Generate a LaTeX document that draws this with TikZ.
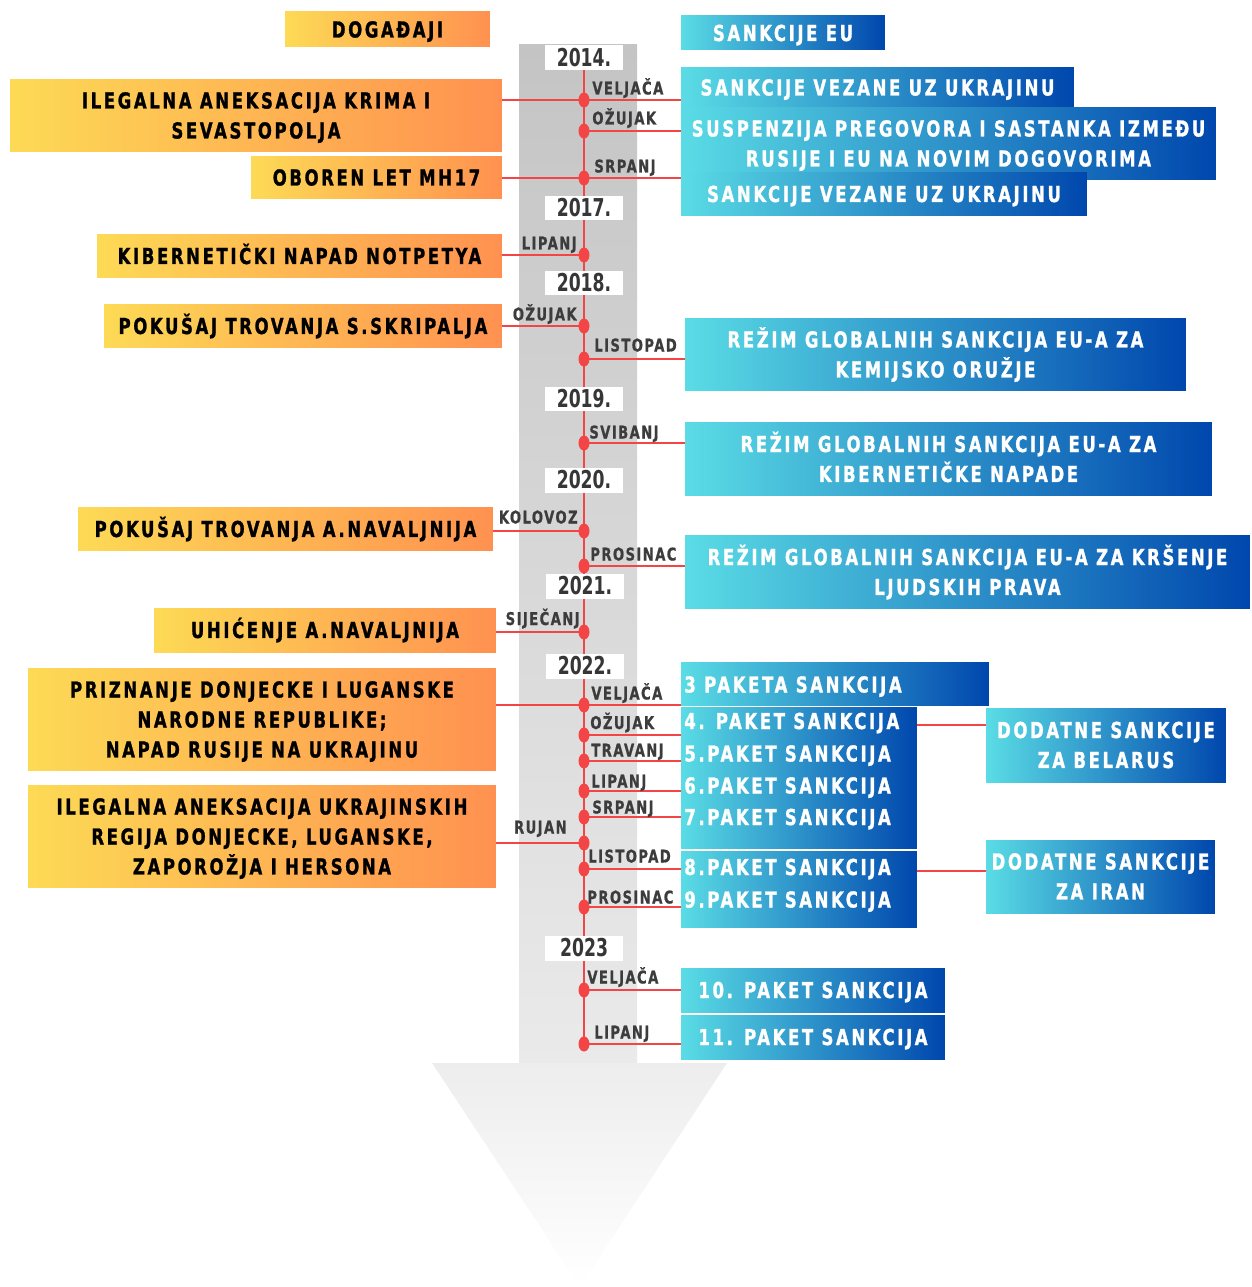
\documentclass[tikz,border=0pt]{standalone}
\usepackage{fontspec}
\usetikzlibrary{shapes.geometric}
\newfontfamily\hvy{DejaVu Sans Bold}[FakeStretch=0.75,LetterSpace=12,FakeBold=1.2]
\newfontfamily\yrf{DejaVu Sans Bold}[FakeStretch=0.7]
\newfontfamily\mof{DejaVu Sans Bold}[FakeStretch=0.75,LetterSpace=8,FakeBold=0.8]
\definecolor{orL}{HTML}{FDDA55}
\definecolor{orR}{HTML}{FF9150}
\definecolor{blL}{HTML}{5ADCE5}
\definecolor{blR}{HTML}{0047AD}
\definecolor{redc}{HTML}{F34545}
\definecolor{monc}{HTML}{3C3C3C}
\definecolor{yrc}{HTML}{363636}
\definecolor{shT}{HTML}{C4C4C4}
\definecolor{shB}{HTML}{EAEAEA}
\definecolor{ahT}{HTML}{EDEDED}
\pgfdeclarelayer{back}
\pgfdeclarelayer{mid}
\pgfsetlayers{back,mid,main}
\tikzset{
  sz/.style 2 args={minimum width=#1cm, minimum height=#2cm},
  one/.style={text height=9.1pt, text depth=0pt},
  two/.style={text height=26.17pt, text depth=0pt},
  three/.style={text height=43.24pt, text depth=0pt},
  lbox/.style={rectangle, left color=orL, right color=orR, inner sep=0pt,
    text=black, align=center, font=\hvy\fontsize{12.5}{17.07}\selectfont},
  rbox/.style={rectangle, left color=blL, right color=blR, inner sep=0pt,
    text=white, align=center, font=\hvy\fontsize{12.5}{17.07}\selectfont},
  ptxt/.style={inner sep=0pt, anchor=base west, text=white,
    font=\hvy\fontsize{12.5}{17.07}\selectfont},
  yr/.style={rectangle, fill=white, minimum width=1.56cm, minimum height=0.5cm,
    inner sep=0pt, text=yrc, text height=10.2pt, text depth=0pt,
    font=\yrf\fontsize{14}{14}\selectfont},
  dot/.style={ellipse, fill=redc, minimum width=0.22cm, minimum height=0.30cm, inner sep=0pt},
  monr/.style={inner sep=0pt, anchor=base west, text=monc, font=\mof\fontsize{10}{10}\selectfont},
  monl/.style={inner sep=0pt, anchor=base east, text=monc, font=\mof\fontsize{10}{10}\selectfont},
  rl/.style={draw=redc, line width=1.5pt},
  vl/.style={draw=redc, line width=1.2pt}
}
\begin{document}
\begin{tikzpicture}[x=0.02cm,y=-0.02cm]
\useasboundingbox (0,0) rectangle (1251,1287);
% arrow
\begin{pgfonlayer}{back}
\shade[top color=shT, bottom color=shB] (519,45) rectangle (637,1063);
\shade[top color=ahT, bottom color=white] (432,1063) -- (727,1063) -- (580,1287) -- cycle;
\end{pgfonlayer}
% headers
\node[lbox, sz={4.10}{0.70}, one] (hl) at (387.5,29.5) {DOGAĐAJI};
\node[rbox, sz={4.08}{0.68}, one] (hr) at (783,33) {SANKCIJE EU};
% left boxes
\node[lbox, sz={9.84}{1.46}, two] (l1) at (256,115.5) {ILEGALNA ANEKSACIJA KRIMA I\\SEVASTOPOLJA};
\node[lbox, sz={5.02}{0.86}, one] (l2) at (376.5,177.5) {OBOREN LET MH17};
\node[lbox, sz={8.10}{0.88}, one] (l3) at (299.5,256) {KIBERNETIČKI NAPAD NOTPETYA};
\node[lbox, sz={7.96}{0.88}, one] (l4) at (303,326) {POKUŠAJ TROVANJA S.SKRIPALJA};
\node[lbox, sz={8.30}{0.88}, one] (l5) at (285.5,529) {POKUŠAJ TROVANJA A.NAVALJNIJA};
\node[lbox, sz={6.84}{0.88}, one] (l6) at (325,630) {UHIĆENJE A.NAVALJNIJA};
\node[lbox, sz={9.36}{2.06}, three] (l7) at (262,719.5) {PRIZNANJE DONJECKE I LUGANSKE\\NARODNE REPUBLIKE;\\NAPAD RUSIJE NA UKRAJINU};
\node[lbox, sz={9.36}{2.06}, three] (l8) at (262,836.5) {ILEGALNA ANEKSACIJA UKRAJINSKIH\\REGIJA DONJECKE, LUGANSKE,\\ZAPOROŽJA I HERSONA};
% right boxes
\node[rbox, sz={7.86}{0.78}, one] (r1) at (877.5,87.5) {SANKCIJE VEZANE UZ UKRAJINU};
\node[rbox, sz={10.70}{1.46}, two] (r2) at (948.5,143.5) {SUSPENZIJA PREGOVORA I SASTANKA IZMEĐU\\RUSIJE I EU NA NOVIM DOGOVORIMA};
\node[rbox, sz={8.12}{0.88}, one] (r3) at (884,194) {SANKCIJE VEZANE UZ UKRAJINU};
\node[rbox, sz={10.02}{1.46}, two] (r4) at (935.5,354.5) {REŽIM GLOBALNIH SANKCIJA EU-A ZA\\KEMIJSKO ORUŽJE};
\node[rbox, sz={10.54}{1.48}, two] (r5) at (948.5,459) {REŽIM GLOBALNIH SANKCIJA EU-A ZA\\KIBERNETIČKE NAPADE};
\node[rbox, sz={11.30}{1.48}, two] (r6) at (967.5,572) {REŽIM GLOBALNIH SANKCIJA EU-A ZA KRŠENJE\\LJUDSKIH PRAVA};
\node[rbox, sz={6.16}{0.86}] (r7) at (835,683.5) {};
\node[rbox, sz={4.72}{2.84}] (r8) at (799,778) {};
\node[rbox, sz={4.72}{1.52}] (r9) at (799,889) {};
\node[rbox, sz={4.80}{1.48}, two] (r10) at (1106,745) {DODATNE SANKCIJE\\ZA BELARUS};
\node[rbox, sz={4.58}{1.46}, two] (r11) at (1100.5,876.5) {DODATNE SANKCIJE\\ZA IRAN};
\node[rbox, sz={5.28}{0.88}, one] (r12) at (813,990) {10. PAKET SANKCIJA};
\node[rbox, sz={5.28}{0.88}, one] (r13) at (813,1037) {11. PAKET SANKCIJA};
\node[ptxt] (p3) at (684,692.5) {3 PAKETA SANKCIJA};
\node[ptxt] (p4) at (684,729) {4. PAKET SANKCIJA};
\node[ptxt] (p5) at (684,761.5) {5.PAKET SANKCIJA};
\node[ptxt] (p6) at (684,793.5) {6.PAKET SANKCIJA};
\node[ptxt] (p7) at (684,825) {7.PAKET SANKCIJA};
\node[ptxt] (p8) at (684,875) {8.PAKET SANKCIJA};
\node[ptxt] (p9) at (684,907.5) {9.PAKET SANKCIJA};
% years
\node[yr] (y14) at (584,57.5) {2014.};
\node[yr] (y17) at (584,208) {2017.};
\node[yr] (y18) at (584,283) {2018.};
\node[yr] (y19) at (584,399) {2019.};
\node[yr] (y20) at (584,480) {2020.};
\node[yr] (y21) at (585,586) {2021.};
\node[yr] (y22) at (585,666) {2022.};
\node[yr] (y23) at (584,948) {2023};
% dots
\node[dot] (d1) at (584,100) {};
\node[dot] (d2) at (584,131) {};
\node[dot] (d3) at (584,178) {};
\node[dot] (d4) at (584,255) {};
\node[dot] (d5) at (584,326) {};
\node[dot] (d6) at (584,359) {};
\node[dot] (d7) at (584,443) {};
\node[dot] (d8) at (584,531) {};
\node[dot] (d9) at (584,566) {};
\node[dot] (d10) at (584,632) {};
\node[dot] (d11) at (584,705) {};
\node[dot] (d12) at (584,735) {};
\node[dot] (d13) at (584,761) {};
\node[dot] (d14) at (584,791) {};
\node[dot] (d15) at (584,817) {};
\node[dot] (d16) at (584,843) {};
\node[dot] (d17) at (584,869) {};
\node[dot] (d18) at (584,907) {};
\node[dot] (d19) at (584,990) {};
\node[dot] (d20) at (584,1044) {};
% month labels
\node[monr] (m1) at (592,94.5) {VELJAČA};
\node[monr] (m2) at (592,124.5) {OŽUJAK};
\node[monr] (m3) at (594,172.5) {SRPANJ};
\node[monl] (m4) at (577,249.5) {LIPANJ};
\node[monl] (m5) at (577,320.5) {OŽUJAK};
\node[monr] (m6) at (594,351.5) {LISTOPAD};
\node[monr] (m7) at (589,438.5) {SVIBANJ};
\node[monl] (m8) at (578,523.5) {KOLOVOZ};
\node[monr] (m9) at (590,560.5) {PROSINAC};
\node[monl] (m10) at (580,625) {SIJEČANJ};
\node[monr] (m11) at (591,699.5) {VELJAČA};
\node[monr] (m12) at (590,729) {OŽUJAK};
\node[monr] (m13) at (591,756.5) {TRAVANJ};
\node[monr] (m14) at (591,787.5) {LIPANJ};
\node[monr] (m15) at (592,813.5) {SRPANJ};
\node[monl] (m16) at (567,833.5) {RUJAN};
\node[monr] (m17) at (588,862.5) {LISTOPAD};
\node[monr] (m18) at (587,903.5) {PROSINAC};
\node[monr] (m19) at (587,983.5) {VELJAČA};
\node[monr] (m20) at (594,1038.5) {LIPANJ};
% connectors
\path ([yshift=0.4cm]r10.west) coordinate (c1);
\path ([yshift=0.11cm]r11.west) coordinate (c2);
\begin{pgfonlayer}{mid}
\draw[vl] (y14.center) -- (d20.center);
\draw[rl] (l1.east |- d1.center) -- (r1.west |- d1.center);
\draw[rl] (d2.center) -- (r2.west |- d2.center);
\draw[rl] (l2.east |- d3.center) -- (r3.west |- d3.center);
\draw[rl] (l3.east |- d4.center) -- (d4.center);
\draw[rl] (l4.east |- d5.center) -- (d5.center);
\draw[rl] (d6.center) -- (r4.west |- d6.center);
\draw[rl] (d7.center) -- (r5.west |- d7.center);
\draw[rl] (l5.east |- d8.center) -- (d8.center);
\draw[rl] (d9.center) -- (r6.west |- d9.center);
\draw[rl] (l6.east |- d10.center) -- (d10.center);
\draw[rl] (l7.east |- d11.center) -- (r7.west |- d11.center);
\draw[rl] (d12.center) -- (r8.west |- d12.center);
\draw[rl] (d13.center) -- (r8.west |- d13.center);
\draw[rl] (d14.center) -- (r8.west |- d14.center);
\draw[rl] (d15.center) -- (r8.west |- d15.center);
\draw[rl] (l8.east |- d16.center) -- (d16.center);
\draw[rl] (d17.center) -- (r9.west |- d17.center);
\draw[rl] (d18.center) -- (r9.west |- d18.center);
\draw[rl] (d19.center) -- (r12.west |- d19.center);
\draw[rl] (d20.center) -- (r13.west |- d20.center);
\draw[rl] (c1 -| r8.east) -- (c1);
\draw[rl] (c2 -| r9.east) -- (c2);
\end{pgfonlayer}
\end{tikzpicture}
\end{document}
